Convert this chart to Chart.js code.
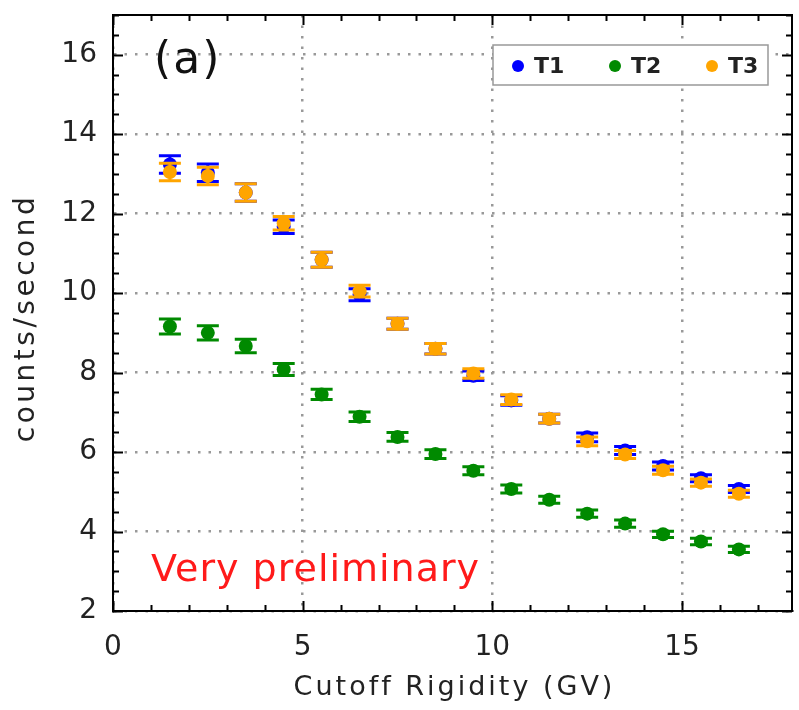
<!DOCTYPE html>
<html>
<head>
<meta charset="utf-8">
<script src="https://cdn.jsdelivr.net/npm/chart.js@4.4.1/dist/chart.umd.min.js"></script>
<style>
  html, body { margin: 0; padding: 0; background: #fff; }
  #wrap { width: 799px; height: 710px; }
</style>
</head>
<body>
<div id="wrap"><canvas id="rigidityChart" width="799" height="710"></canvas></div>
<script>
// --------- DATA --------------------------------
const rigidity = [1.5, 2.5, 3.5, 4.5, 5.5, 6.5, 7.5, 8.5, 9.5, 10.5, 11.5, 12.5, 13.5, 14.5, 15.5, 16.5];

const t1Rate = [13.24, 13.03, 12.53, 11.67, 10.84, 9.96, 9.23, 8.60, 7.92, 7.30, 6.84, 6.37, 6.04, 5.65, 5.34, 5.07];
const t1Err  = [0.22, 0.22, 0.22, 0.17, 0.19, 0.15, 0.14, 0.13, 0.12, 0.12, 0.11, 0.11, 0.10, 0.10, 0.09, 0.09];

const t2Rate = [9.16, 9.00, 8.67, 8.08, 7.45, 6.89, 6.38, 5.95, 5.53, 5.07, 4.80, 4.45, 4.20, 3.93, 3.75, 3.55];
const t2Err  = [0.19, 0.18, 0.17, 0.15, 0.13, 0.12, 0.11, 0.11, 0.10, 0.10, 0.09, 0.09, 0.09, 0.08, 0.08, 0.08];

const t3Rate = [13.05, 12.95, 12.53, 11.76, 10.84, 10.05, 9.23, 8.60, 7.98, 7.32, 6.84, 6.27, 5.94, 5.54, 5.23, 4.95];
const t3Err  = [0.22, 0.22, 0.22, 0.17, 0.19, 0.15, 0.14, 0.13, 0.12, 0.12, 0.11, 0.11, 0.10, 0.10, 0.09, 0.09];

const seriesNames = ['T1', 'T2', 'T3'];
const xTickVals = [0, 5, 10, 15];
const yTickVals = [2, 4, 6, 8, 10, 12, 14, 16];
const xTitle = 'Cutoff Rigidity (GV)';
const yTitle = 'counts/second';

const FONT = "'DejaVu Sans', sans-serif";

function toPoints(ys) {
    return rigidity.map((x, i) => ({ x: x, y: ys[i] }));
}

// ---------- error bars, drawn just before each dataset's markers ----------
const errorBars = {
    id: 'errorBars',
    beforeDatasetDraw(chart, args) {
        const ds = chart.data.datasets[args.index];
        if (!ds.errors) return;
        const ctx = chart.ctx;
        const xs = chart.scales.x, ys = chart.scales.y;
        ctx.save();
        ctx.strokeStyle = ds.borderColor;
        ctx.lineWidth = 3;
        ds.data.forEach((p, i) => {
            const px = xs.getPixelForValue(p.x);
            const top = ys.getPixelForValue(p.y + ds.errors[i]);
            const bot = ys.getPixelForValue(p.y - ds.errors[i]);
            ctx.beginPath();
            ctx.moveTo(px, top); ctx.lineTo(px, bot);
            ctx.moveTo(px - 11, top); ctx.lineTo(px + 11, top);
            ctx.moveTo(px - 11, bot); ctx.lineTo(px + 11, bot);
            ctx.stroke();
        });
        ctx.restore();
    }
};

// ---------- box frame, inward ticks, titles, legend and annotations ----------
const frame = {
    id: 'frame',
    afterDraw(chart) {
        const ctx = chart.ctx;
        const a = chart.chartArea;
        const xs = chart.scales.x, ys = chart.scales.y;
        ctx.save();
        ctx.strokeStyle = '#000';
        ctx.lineWidth = 2;
        ctx.strokeRect(a.left, a.top, a.right - a.left, a.bottom - a.top);

        ctx.beginPath();
        for (let v = 0; v <= xs.max + 1e-6; v += 1) {
            const len = (v % 5 === 0) ? 10 : 6;
            const px = Math.round(xs.getPixelForValue(v)) + 0.5;
            ctx.moveTo(px, a.bottom); ctx.lineTo(px, a.bottom - len);
            ctx.moveTo(px, a.top); ctx.lineTo(px, a.top + len);
        }
        for (let v = ys.min; v <= ys.max + 1e-6; v += 0.5) {
            const len = (Math.abs(v % 2) < 1e-6) ? 10 : 6;
            const py = Math.round(ys.getPixelForValue(v)) + 0.5;
            ctx.moveTo(a.left, py); ctx.lineTo(a.left + len, py);
            ctx.moveTo(a.right, py); ctx.lineTo(a.right - len, py);
        }
        ctx.stroke();

        // axis titles (wide letter spacing like the original)
        ctx.fillStyle = '#222';
        ctx.textAlign = 'center';
        ctx.textBaseline = 'middle';
        ctx.font = '27px ' + FONT;
        ctx.letterSpacing = '3px';
        ctx.fillText(xTitle, (a.left + a.right) / 2 + 2, 688);
        ctx.save();
        ctx.translate(27, 318);
        ctx.rotate(-Math.PI / 2);
        ctx.font = '28px ' + FONT;
        ctx.letterSpacing = '3.5px';
        ctx.fillText(yTitle, 0, 0);
        ctx.restore();

        // legend box inside the plot
        ctx.textAlign = 'left';
        ctx.letterSpacing = '0px';
        ctx.fillStyle = '#fff';
        ctx.fillRect(493, 45, 275, 40);
        ctx.strokeStyle = '#999';
        ctx.lineWidth = 1.5;
        ctx.strokeRect(493, 45, 275, 40);
        const legendX = [518, 615, 712];
        ctx.font = 'bold 22px ' + FONT;
        chart.data.datasets.forEach((ds, i) => {
            ctx.fillStyle = ds.backgroundColor;
            ctx.beginPath();
            ctx.arc(legendX[i], 66, 6, 0, Math.PI * 2);
            ctx.fill();
            ctx.fillStyle = '#222';
            ctx.fillText(ds.label, legendX[i] + 16, 67);
        });

        // panel label and note
        ctx.fillStyle = '#111';
        ctx.font = '44px ' + FONT;
        ctx.letterSpacing = '2px';
        ctx.fillText('(a)', 154, 62);
        ctx.fillStyle = '#ff1a1a';
        ctx.font = '38px ' + FONT;
        ctx.letterSpacing = '1px';
        ctx.textBaseline = 'alphabetic';
        ctx.fillText('Very preliminary', 151, 581);
        ctx.restore();
    }
};

const ctx = document.getElementById('rigidityChart').getContext('2d');

let rigidityChart = new Chart(ctx, {
    type: 'scatter',
    data: {
        datasets: [{
            label: seriesNames[0],
            data: toPoints(t1Rate),
            errors: t1Err,
            borderColor: '#0000ff',
            backgroundColor: '#0000ff',
            pointRadius: 7,
            pointBorderWidth: 0,
            order: 2
        }, {
            label: seriesNames[1],
            data: toPoints(t2Rate),
            errors: t2Err,
            borderColor: '#008a00',
            backgroundColor: '#008a00',
            pointRadius: 7,
            pointBorderWidth: 0,
            order: 1
        }, {
            label: seriesNames[2],
            data: toPoints(t3Rate),
            errors: t3Err,
            borderColor: '#ffa500',
            backgroundColor: '#ffa500',
            pointRadius: 7,
            pointBorderWidth: 0,
            order: 0
        }]
    },
    options: {
        responsive: false,
        animation: false,
        devicePixelRatio: 1,
        layout: { padding: { top: 15, right: 4, left: 0, bottom: 0 } },
        plugins: {
            legend: { display: false },
            tooltip: { enabled: false }
        },
        scales: {
            x: {
                type: 'linear',
                min: 0,
                max: 17.9,
                afterBuildTicks: s => { s.ticks = xTickVals.map(v => ({ value: v })); },
                afterFit: s => { s.height = 99; s.paddingLeft = 0; s.paddingRight = 0; },
                ticks: { color: '#222', font: { family: FONT, size: 28 }, padding: 20, maxRotation: 0 },
                grid: { color: '#999', lineWidth: 2.5, drawTicks: false },
                border: { display: true, color: '#000', width: 2, dash: [2.5, 8] }
            },
            y: {
                type: 'linear',
                min: 2,
                max: 17,
                afterBuildTicks: s => { s.ticks = yTickVals.map(v => ({ value: v })); },
                afterFit: s => { s.width = 113; s.paddingTop = 0; s.paddingBottom = 0; },
                ticks: { color: '#222', font: { family: FONT, size: 28 }, padding: 16 },
                grid: { color: '#999', lineWidth: 2.5, drawTicks: false },
                border: { display: true, color: '#000', width: 2, dash: [2.5, 8] }
            }
        }
    },
    plugins: [errorBars, frame]
});
</script>
</body>
</html>
